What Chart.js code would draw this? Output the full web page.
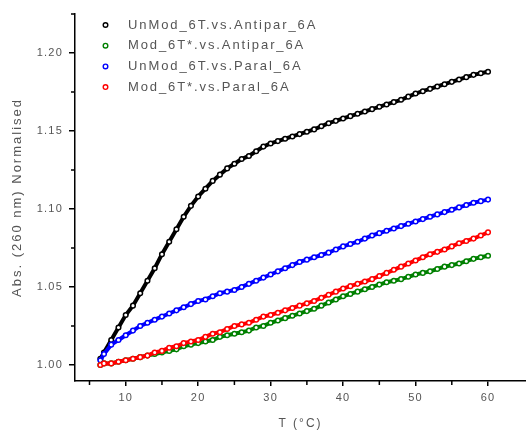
<!DOCTYPE html>
<html>
<head>
<meta charset="utf-8">
<script src="https://cdn.jsdelivr.net/npm/chart.js@4/dist/chart.umd.min.js"></script>
<style>
html,body{margin:0;padding:0;background:#fff;}
#wrap{width:526px;height:430px;}
</style>
</head>
<body>
<div id="wrap"><canvas id="c" width="526" height="430"></canvas></div>
<script>
// Temperature (°C)
const temps = [6.5,7,8,9,10,11,12,13,14,15,16,17,18,19,20,21,22,23,24,25,26,27,28,29,30,31,32,33,34,35,36,37,38,39,40,41,42,43,44,45,46,47,48,49,50,51,52,53,54,55,56,57,58,59,60];

const seriesNames = ['UnMod_6T.vs.Antipar_6A','Mod_6T*.vs.Antipar_6A','UnMod_6T.vs.Paral_6A','Mod_6T*.vs.Paral_6A'];

const unmodAntipar = [1.004,1.008,1.016,1.024,1.032,1.038,1.046,1.054,1.062,1.071,1.079,1.087,1.095,1.102,1.108,1.113,1.118,1.122,1.126,1.129,1.132,1.134,1.137,1.140,1.142,1.1435,1.145,1.1465,1.148,1.1495,1.151,1.153,1.155,1.1565,1.158,1.1595,1.161,1.1625,1.164,1.1655,1.167,1.1685,1.170,1.172,1.174,1.1755,1.177,1.1785,1.180,1.1815,1.183,1.1845,1.186,1.187,1.188];

const modAntipar = [1.000,1.001,1.001,1.002,1.003,1.004,1.005,1.006,1.007,1.008,1.009,1.010,1.012,1.013,1.014,1.015,1.016,1.018,1.019,1.020,1.021,1.022,1.024,1.025,1.027,1.0285,1.030,1.0315,1.033,1.0345,1.036,1.038,1.040,1.042,1.044,1.0455,1.047,1.0485,1.050,1.0515,1.053,1.054,1.055,1.0565,1.058,1.059,1.060,1.0615,1.063,1.064,1.065,1.0665,1.068,1.069,1.070];

const unmodParal = [1.003,1.007,1.013,1.016,1.019,1.022,1.025,1.027,1.029,1.031,1.033,1.035,1.037,1.039,1.041,1.042,1.044,1.046,1.047,1.048,1.050,1.052,1.054,1.056,1.058,1.060,1.062,1.064,1.066,1.0675,1.069,1.0705,1.072,1.074,1.076,1.0775,1.079,1.081,1.083,1.0845,1.086,1.0875,1.089,1.0905,1.092,1.0935,1.095,1.0965,1.098,1.0995,1.101,1.1025,1.104,1.105,1.106];

const modParal = [1.000,1.001,1.001,1.002,1.003,1.004,1.005,1.006,1.008,1.009,1.011,1.012,1.014,1.015,1.016,1.018,1.020,1.021,1.023,1.025,1.026,1.027,1.029,1.031,1.032,1.0335,1.035,1.0365,1.038,1.0395,1.041,1.043,1.045,1.047,1.049,1.0505,1.052,1.0535,1.055,1.057,1.059,1.061,1.063,1.065,1.067,1.069,1.071,1.0725,1.074,1.076,1.078,1.0795,1.081,1.083,1.085];

const xTickValues = [10,20,30,40,50,60];
const xMinorValues = [5,15,25,35,45,55];
const yTickValues = [1.00,1.05,1.10,1.15,1.20];
const yMinorValues = [1.025,1.075,1.125,1.175,1.225];

const colors = ['#000000','#008000','#0000ff','#ff0000'];
const drawOrder = [3,1,2,0];
const seriesValues = [unmodAntipar, modAntipar, unmodParal, modParal];

Chart.defaults.font.family = "'Liberation Sans', Arial, sans-serif";

const datasets = seriesValues.map((vals, i) => ({
  label: seriesNames[i],
  data: temps.map((t, j) => ({x: t, y: vals[j]})),
  showLine: true,
  borderColor: colors[i],
  borderWidth: 4,
  pointRadius: 2.3,
  pointBorderWidth: 1.5,
  pointBorderColor: colors[i],
  pointBackgroundColor: '#ffffff',
  order: drawOrder[i]
}));

const patchPlugin = {
  id: 'patch',
  afterLayout(chart) {
    // let the plot area run to the right edge of the canvas, as in the reference
    const a = chart.chartArea, x = chart.scales.x;
    const R = chart.width;
    a.right = R; a.width = R - a.left;
    x.right = R; x.width = R - x.left;
    x.configure();
  },
  beforeDraw(chart) {
    chart.ctx.letterSpacing = '1.2px';
    Object.values(chart.scales).forEach(s => {
      if (s._ptch) return;
      s._ptch = true;
      const orig = s.drawTitle.bind(s);
      s.drawTitle = function() {
        const c = this.ctx; const prev = c.letterSpacing;
        c.letterSpacing = '2px'; orig(); c.letterSpacing = prev;
      };
    });
  },
  afterDraw(chart) {
    const ctx = chart.ctx;
    const xs = chart.scales.x, ys = chart.scales.y;
    ctx.save();
    ctx.strokeStyle = '#000'; ctx.lineWidth = 1.5;
    ctx.beginPath();
    xMinorValues.forEach(v => {
      const px = xs.getPixelForValue(v);
      if (px < xs.left - 1 || px > xs.right + 1) return;
      ctx.moveTo(px, chart.chartArea.bottom); ctx.lineTo(px, chart.chartArea.bottom + 4);
    });
    yMinorValues.forEach(v => {
      let py = ys.getPixelForValue(v);
      if (py < ys.top - 2 || py > ys.bottom + 1) return;
      ctx.moveTo(chart.chartArea.left, py); ctx.lineTo(chart.chartArea.left - 4, py);
    });
    ctx.stroke();
    // legend
    ctx.letterSpacing = '1.9px';
    ctx.font = "13px 'Liberation Sans', Arial, sans-serif";
    ctx.textBaseline = 'middle';
    ctx.textAlign = 'left';
    chart.data.datasets.forEach((d, i) => {
      const y = 25 + i * 20.7;
      ctx.beginPath();
      ctx.arc(105.5, y, 2.3, 0, Math.PI * 2);
      ctx.fillStyle = '#fff'; ctx.fill();
      ctx.strokeStyle = d.borderColor; ctx.lineWidth = 1.4; ctx.stroke();
      ctx.fillStyle = '#555';
      ctx.fillText(d.label, 128, y);
    });
    ctx.restore();
  }
};

new Chart(document.getElementById('c'), {
  type: 'scatter',
  data: { datasets },
  plugins: [patchPlugin],
  options: {
    responsive: false,
    animation: false,
    layout: { padding: { top: 14, right: 0, left: 0, bottom: 0 } },
    plugins: { legend: { display: false }, tooltip: { enabled: false } },
    scales: {
      x: {
        type: 'linear', min: 3.0, max: 65.24,
        afterBuildTicks: s => { s.ticks = xTickValues.map(v => ({ value: v })); },
        afterFit: s => { s.height = 49; s.paddingLeft = 0; s.paddingRight = 0; },
        grid: { display: true, drawOnChartArea: false, drawTicks: true, tickLength: 5, color: '#000', lineWidth: 1.5 },
        border: { display: true, color: '#000', width: 1.5 },
        ticks: { color: '#555', font: { size: 11 }, padding: 5, maxRotation: 0, callback: v => String(v) },
        title: { display: true, text: 'T (°C)', color: '#555', font: { size: 12 }, padding: { top: 0, bottom: -1 } }
      },
      y: {
        type: 'linear', min: 0.9897, max: 1.225,
        afterBuildTicks: s => { s.ticks = yTickValues.map(v => ({ value: v })); },
        afterFit: s => { s.width = 75; s.paddingTop = 0; s.paddingBottom = 0; },
        grid: { display: true, drawOnChartArea: false, drawTicks: true, tickLength: 6, color: '#000', lineWidth: 1.5 },
        border: { display: true, color: '#000', width: 1.5 },
        ticks: { color: '#555', font: { size: 11 }, padding: 6, callback: v => v.toFixed(2) },
        title: { display: true, text: 'Abs. (260 nm) Normalised', color: '#555', font: { size: 13 }, padding: { top: 10, bottom: 0 } }
      }
    }
  }
});
</script>
</body>
</html>
